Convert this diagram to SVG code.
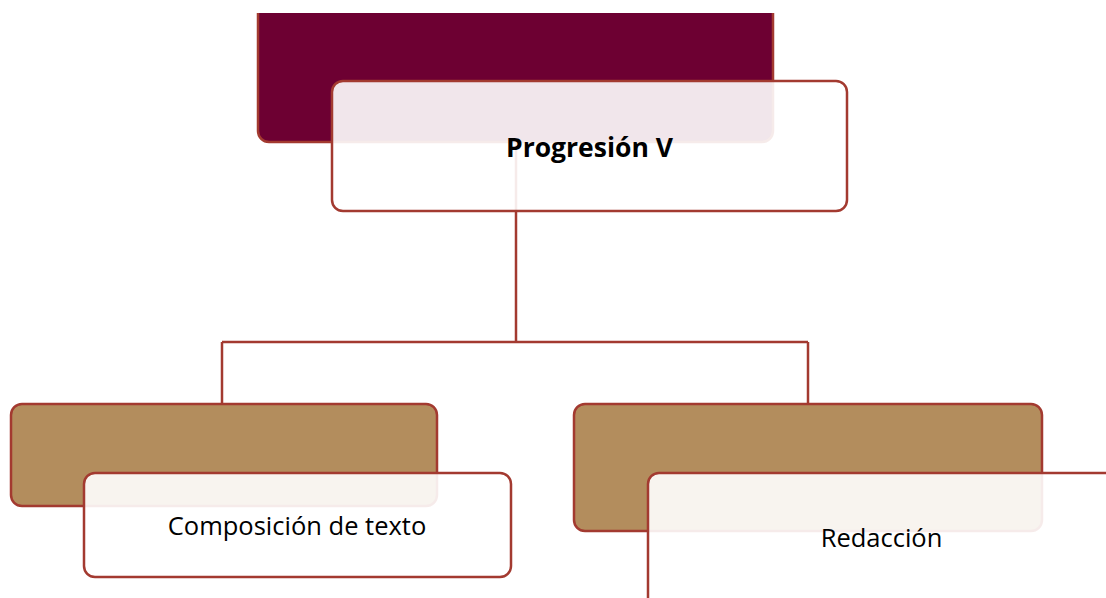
<svg xmlns="http://www.w3.org/2000/svg" width="1106" height="598" viewBox="0 0 1106 598">
<style>
.conn{fill:none;stroke:#A33A30;stroke-width:2.5}
.box{stroke:#A33A30;stroke-width:2.5}
.dark{fill:#6D0032}
.tan{fill:#B38D5D}
.lite{fill:#FFFFFF;fill-opacity:0.9}
.lbl{font-family:"Open Sans","Noto Sans","Liberation Sans",sans-serif;fill:#000;text-anchor:middle}
</style>
<defs>
<clipPath id="topclip"><rect x="0" y="13" width="1106" height="585"/></clipPath>
</defs>
<rect width="1106" height="598" fill="#FFFFFF"/>
<g id="connectors">
<path class="conn" d="M516 142 V342"/>
<path class="conn" d="M222 342 H808"/>
<path class="conn" d="M222 342 V404"/>
<path class="conn" d="M808 342 V404"/>
</g>
<g id="node-progresion">
<rect class="box dark" x="258" y="0" width="515" height="142" rx="11" clip-path="url(#topclip)"/>
<rect class="box lite" x="332" y="81" width="515" height="130" rx="11"/>
<text class="lbl" x="589.5" y="157" font-size="26.5" font-weight="bold">Progresión V</text>
</g>
<g id="node-composicion">
<rect class="box tan" x="11" y="404" width="426" height="102" rx="11"/>
<rect class="box lite" x="84" y="473" width="427" height="104" rx="11"/>
<text class="lbl" x="297" y="535" font-size="25.5">Composición de texto</text>
</g>
<g id="node-redaccion">
<rect class="box tan" x="574" y="404" width="468" height="127" rx="11"/>
<rect class="box lite" x="648" y="473" width="480" height="140" rx="11"/>
<text class="lbl" x="881.5" y="547" font-size="25.5">Redacción</text>
</g>
</svg>
